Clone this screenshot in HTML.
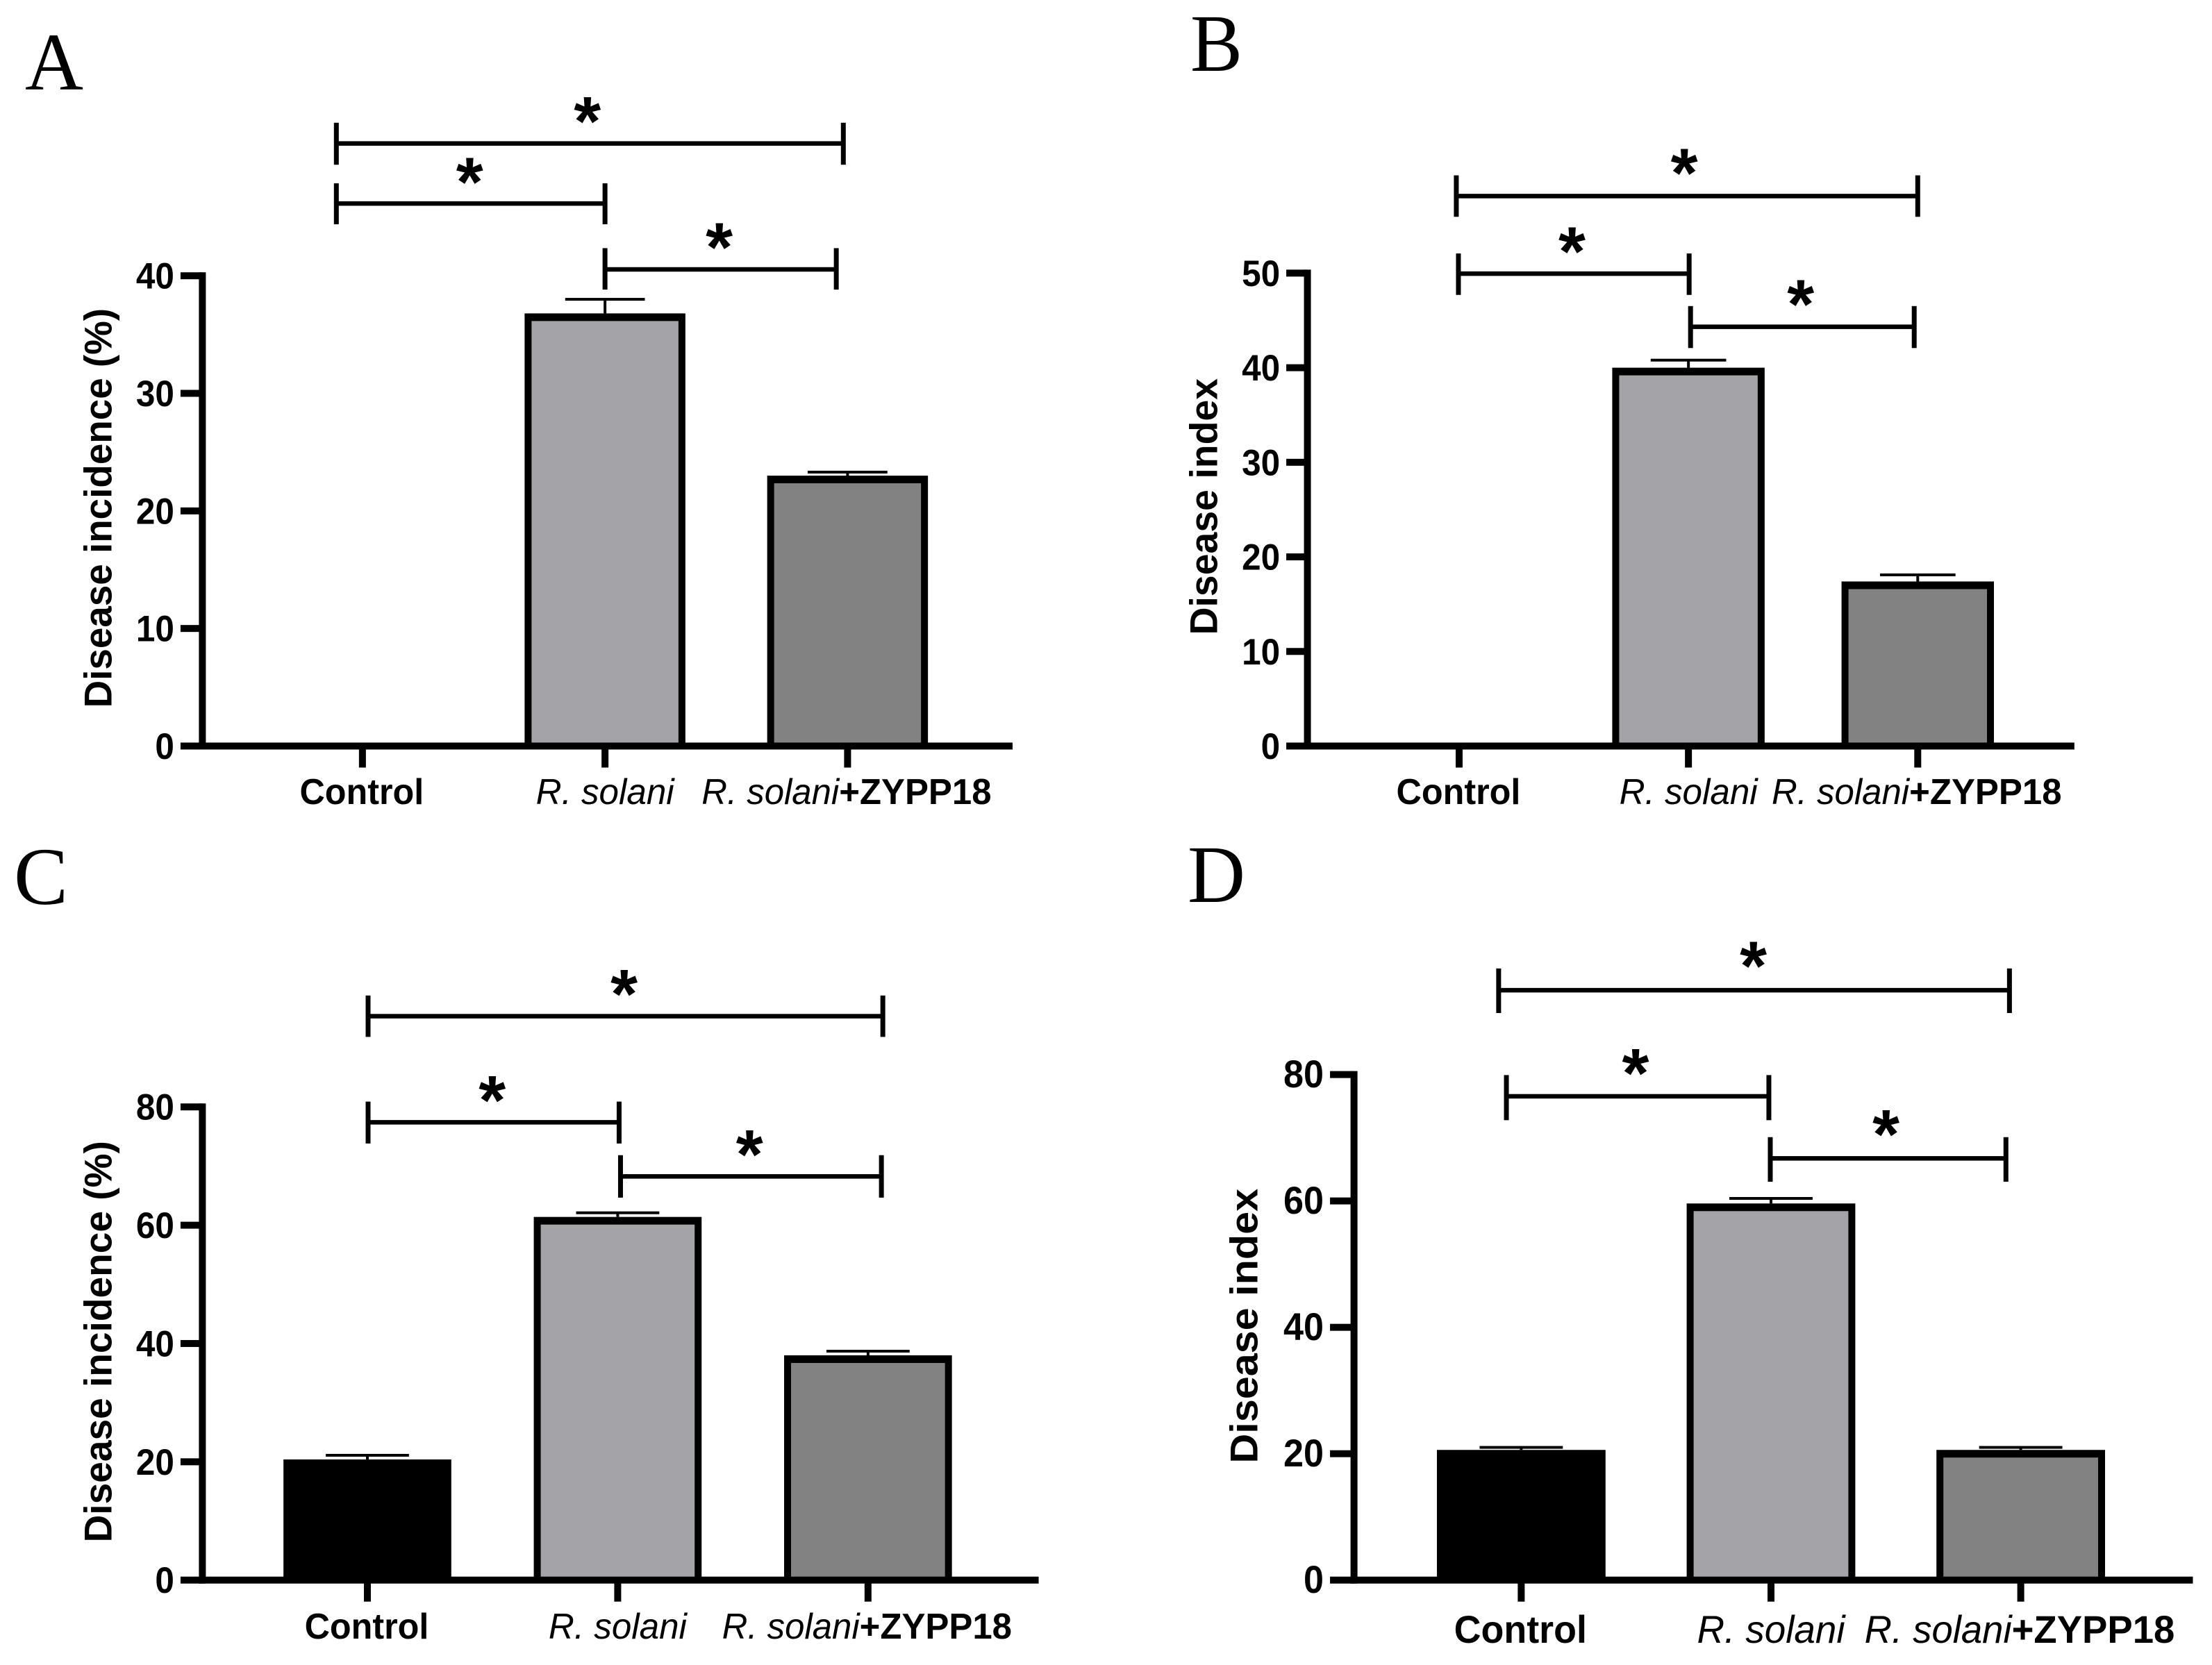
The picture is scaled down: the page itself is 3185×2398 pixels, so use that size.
<!DOCTYPE html>
<html lang="en">
<head>
<meta charset="utf-8">
<title>Disease incidence and disease index bar charts</title>
<style>
html,body{margin:0;padding:0;background:#fff;overflow:hidden;}
svg{display:block;}
text{font-family:"Liberation Sans",sans-serif;fill:#000;}
.letter{font-family:"Liberation Serif",serif;font-size:118px;}
</style>
</head>
<body>
<svg id="figure" xmlns="http://www.w3.org/2000/svg" width="3185" height="2398" viewBox="0 0 3185 2398">
  <rect width="3185" height="2398" fill="#fff"/>
  <g id="panel-a">
    <text class="letter" x="36" y="129" textLength="84" lengthAdjust="spacingAndGlyphs">A</text>
  </g>
  <g id="panel-b">
    <text class="letter" x="1714" y="102" textLength="75" lengthAdjust="spacingAndGlyphs">B</text>
  </g>
  <g id="panel-c">
    <text class="letter" x="20" y="1302" textLength="78" lengthAdjust="spacingAndGlyphs">C</text>
  </g>
  <g id="panel-d">
    <text class="letter" x="1710" y="1299" textLength="83" lengthAdjust="spacingAndGlyphs">D</text>
  </g>
</svg>
<script>
// Chart data
const categories = ['Control', 'R. solani', 'R. solani+ZYPP18'];
const panelAValues = [0, 36.8, 23.0];
const panelAErrors = [0, 1.2, 0.3];
const panelATicks = [0, 10, 20, 30, 40];
const panelBValues = [0, 40.0, 17.4];
const panelBErrors = [0, 0.8, 0.7];
const panelBTicks = [0, 10, 20, 30, 40, 50];
const panelCValues = [20.4, 61.4, 38.0];
const panelCErrors = [0.7, 0.7, 0.7];
const panelCTicks = [0, 20, 40, 60, 80];
const panelDValues = [20.6, 59.6, 20.6];
const panelDErrors = [0.4, 0.8, 0.4];
const panelDTicks = [0, 20, 40, 60, 80];
const barFills = ['#000000', '#a3a3a8', '#828282'];

// Layout: numbers below are measured in a 1568-unit square per quadrant; ox/oy/sx/sy convert to pixels.
const panels = [
  {id:'panel-a', key:'a', title:'Disease incidence (%)', values:panelAValues, errors:panelAErrors, ticks:panelATicks,
   ox:0, oy:0, sx:1.0153, sy:0.7653,
   axisX:287, yZero:1404, yTop:519, xEnd:1436, tickLeft:256, catX0:514, catStep:344, barW:228, capW:113, titleX:158, titleStart:1332, titleLen:752,
   labelY:1513, labelSize:52, labelScale:1, tickSize:53, tickW:27.5,
   brackets:[[477,1196,270,231,310,833,208],[477,858,383,345,422,666,322],[858,1186,507,467,545,1020,445]]},
  {id:'panel-b', key:'b', title:'Disease index', values:panelBValues, errors:panelBErrors, ticks:panelBTicks,
   ox:1592, oy:0, sx:1.0159, sy:0.7653,
   axisX:286, yZero:1404, yTop:514, xEnd:1373, tickLeft:256, catX0:501, catStep:325, barW:216, capW:107, titleX:158, titleStart:1195, titleLen:483,
   labelY:1513, labelSize:52, labelScale:1, tickSize:53, tickW:27.5,
   brackets:[[497,1151,369,330,408,820,305],[500,827,515,477,555,661,453],[829,1146,615,576,655,985,552]]},
  {id:'panel-c', key:'c', title:'Disease incidence (%)', values:panelCValues, errors:panelCErrors, ticks:panelCTicks,
   ox:0, oy:1200, sx:1.0153, sy:0.764,
   axisX:287, yZero:1408, yTop:516, xEnd:1473, tickLeft:256, catX0:521, catStep:355, barW:238, capW:118, titleX:158, titleStart:1337, titleLen:757,
   labelY:1518, labelSize:52, labelScale:1, tickSize:53, tickW:27.5,
   brackets:[[522,1252,345,306,384,885,283],[522,878,545,506,585,698,483],[880,1250,647,607,687,1063,585]]},
  {id:'panel-d', key:'d', title:'Disease index', values:panelDValues, errors:panelDErrors, ticks:panelDTicks,
   ox:1592, oy:1200, sx:1.0159, sy:0.764,
   axisX:352, yZero:1408, yTop:455, xEnd:1541, tickLeft:318, catX0:589, catStep:354, barW:239, capW:118, titleX:215, titleStart:1188, titleLen:518,
   labelY:1526, labelSize:56, labelScale:1.07, tickSize:56, tickW:29,
   brackets:[[557,1281,296,255,339,918,230],[568,940,496,456,541,751,432],[942,1276,613,573,657,1106,547]]}
];

const SVG_NS = 'http://www.w3.org/2000/svg';
function make(tag, attrs, parent, content) {
  const node = document.createElementNS(SVG_NS, tag);
  Object.keys(attrs).forEach(function (k) { node.setAttribute(k, attrs[k]); });
  if (content !== undefined) node.textContent = content;
  parent.appendChild(node);
  return node;
}

panels.forEach(function (p) {
  const root = document.getElementById(p.id);
  const PX = function (x) { return p.ox + x * p.sx; };
  const PY = function (y) { return p.oy + y * p.sy; };
  const maxTick = p.ticks[p.ticks.length - 1];
  // axis functions return pixel positions
  const yScale = function (v) { return PY(p.yZero - v * (p.yZero - p.yTop) / maxTick); };
  const xScale = function (i) { return PX(p.catX0 + i * p.catStep); };
  const baseY = yScale(0);
  const axisPx = PX(p.axisX);
  const tickLeftPx = PX(p.tickLeft);
  const barW = p.barW * p.sx;
  const capW = p.capW * p.sx;

  // Bars and error bars
  p.values.forEach(function (v, i) {
    const cx = xScale(i);
    const top = yScale(v);
    const errTop = yScale(v + p.errors[i]);
    const group = make('g', {}, root);
    
    

    const stem = make('rect', {x: cx - 2, y: errTop, width: 4, height: Math.max(0, top - errTop), fill: '#000'}, group);
    
    

    const cap = make('rect', {x: cx - capW / 2, y: errTop - 2, width: capW, height: 4, fill: '#000'}, group);
    
    

    const outer = make('rect', {x: cx - barW / 2, y: top, width: barW, height: Math.max(0, baseY - top), fill: '#000'}, group);
    
    

    const inner = make('rect', {x: cx - barW / 2 + 10, y: top + 11, width: barW - 20, height: Math.max(0, baseY - top - 11), fill: barFills[i]}, group);
    
    
  });

  // Axes
  const yAxis = make('rect', {x: axisPx - 5, y: yScale(maxTick) - 5, width: 10, height: baseY - yScale(maxTick) + 10, fill: '#000'}, root);
  
  

  const xAxis = make('rect', {x: axisPx - 5, y: baseY - 5, width: PX(p.xEnd) - axisPx + 5, height: 10, fill: '#000'}, root);
  
  

  // Y ticks
  p.ticks.forEach(function (t) {
    const y = yScale(t);
    const mark = make('rect', {x: tickLeftPx, y: y - 5, width: axisPx - tickLeftPx, height: 10, fill: '#000'}, root);
    
    

    const str = String(t);
    const label = make('text', {x: tickLeftPx - 9, y: y + 18.5, 'text-anchor': 'end', 'font-size': p.tickSize, 'font-weight': 'bold',
      textLength: p.tickW * str.length, lengthAdjust: 'spacingAndGlyphs'}, root, str);
    
    
  });

  // Y title
  const yTitle = make('text', {transform: 'translate(' + PX(p.titleX) + ',' + PY(p.titleStart) + ') rotate(-90)', 'font-size': 56, 'font-weight': 'bold',
    textLength: p.titleLen * p.sy, lengthAdjust: 'spacingAndGlyphs'}, root, p.title);
  
  

  // Category ticks and labels
  categories.forEach(function (name, i) {
    const cx = xScale(i);
    const mark = make('rect', {x: cx - 5, y: baseY, width: 10, height: 31, fill: '#000'}, root);
    
    

    const s = p.labelScale * p.sx;
    const common = {y: PY(p.labelY), 'font-size': p.labelSize, lengthAdjust: 'spacingAndGlyphs'};
    if (i === 0) {
      const a = make('text', Object.assign({x: cx - 89 * s, 'font-weight': 'bold', textLength: 176 * s}, common), root, name);
      
      
    } else if (i === 1) {
      const b = make('text', Object.assign({x: cx - 98 * s, 'font-style': 'italic', textLength: 196 * s}, common), root, name);
      
      
    } else {
      const parts = name.split('+');
      const left = cx - 207 * s;
      const c = make('text', Object.assign({x: left, 'font-style': 'italic', textLength: 195 * s}, common), root, parts[0]);
      
      
      const d = make('text', Object.assign({x: left + 195 * s, 'font-weight': 'bold', textLength: 216 * s}, common), root, '+' + parts[1]);
      
      
    }
  });

  // Significance brackets (annotation layout)
  p.brackets.forEach(function (b) {
    const g = make('g', {}, root);
    
    

    const line = make('rect', {x: PX(b[0]), y: PY(b[2]) - 3.25, width: PX(b[1]) - PX(b[0]), height: 6.5, fill: '#000'}, g);
    
    

    const leftEnd = make('rect', {x: PX(b[0]) - 3.5, y: PY(b[3]), width: 7, height: PY(b[4]) - PY(b[3]), fill: '#000'}, g);
    
    

    const rightEnd = make('rect', {x: PX(b[1]) - 3.5, y: PY(b[3]), width: 7, height: PY(b[4]) - PY(b[3]), fill: '#000'}, g);
    
    

    const star = make('text', {x: PX(b[5]), y: PY(b[6]) + 50, 'text-anchor': 'middle', 'font-size': 100, 'font-weight': 'bold'}, g, '*');
    
    
  });
});
</script>
</body>
</html>
